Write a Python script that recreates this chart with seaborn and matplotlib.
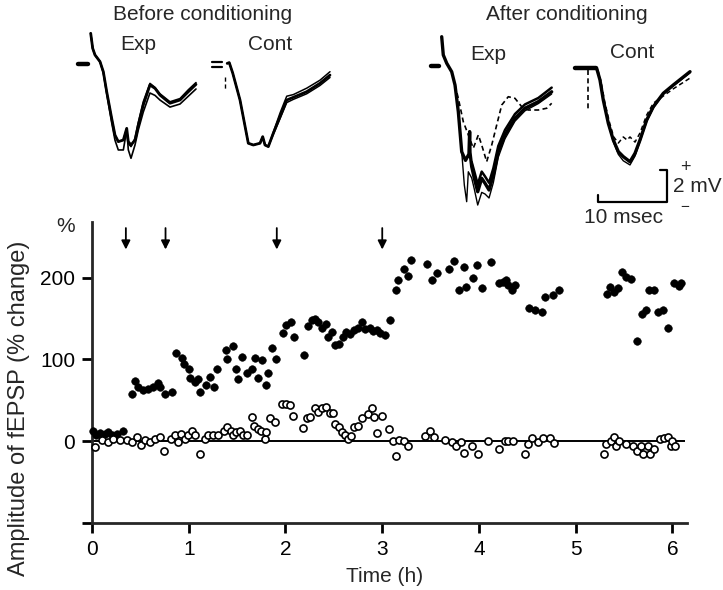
import matplotlib.pyplot as plt
import seaborn as sns

sns.set_theme(style="ticks")
plt.rcParams['font.family'] = ['Liberation Sans', 'DejaVu Sans']

# fEPSP amplitude (% change) vs time (h), experimental pathway (filled)
exp_time = [0.01, 0.04, 0.08, 0.13, 0.17, 0.21, 0.26, 0.32,
            0.41, 0.44, 0.48, 0.53, 0.58, 0.63, 0.68, 0.70, 0.75, 0.83,
            0.87, 0.93, 0.95, 1.00, 1.01, 1.06, 1.10, 1.12, 1.18, 1.22, 1.26, 1.29, 1.38, 1.40,
            1.46, 1.49, 1.51, 1.55, 1.60, 1.65, 1.68, 1.72, 1.76, 1.80, 1.82, 1.86, 1.90,
            1.97, 2.01, 2.06, 2.09, 2.19, 2.23, 2.27, 2.30, 2.34, 2.38, 2.42, 2.44, 2.48, 2.51,
            2.55, 2.59, 2.63, 2.67, 2.71, 2.75, 2.79, 2.82, 2.87, 2.90, 2.95, 2.98, 3.03, 3.08,
            3.14, 3.16, 3.22, 3.27, 3.30, 3.46, 3.51, 3.57, 3.69, 3.74, 3.79, 3.84, 3.87, 3.94,
            3.98, 4.03, 4.12, 4.21, 4.25, 4.28, 4.30, 4.34, 4.37, 4.52, 4.58, 4.65, 4.68, 4.77, 4.83,
            5.32, 5.35, 5.40, 5.44, 5.48, 5.52, 5.57, 5.63, 5.69, 5.73, 5.76, 5.81, 5.85, 5.90,
            5.95, 6.02, 6.07, 6.09]
exp_amp = [12, 8, 10, 9, 11, 7, 9, 12,
           58, 74, 66, 62, 64, 66, 71, 66, 58, 60,
           108, 102, 95, 88, 77, 72, 76, 60, 69, 78, 66, 88, 112, 101,
           117, 88, 76, 103, 83, 88, 102, 77, 99, 69, 84, 114, 100,
           132, 142, 146, 127, 105, 141, 148, 149, 146, 139, 143, 128, 134, 118,
           119, 127, 134, 131, 136, 139, 146, 137, 138, 135, 136, 132, 130, 148,
           185, 197, 210, 202, 221, 217, 197, 206, 211, 220, 185, 213, 189, 200,
           216, 187, 219, 193, 195, 197, 191, 185, 191, 163, 161, 158, 176, 179, 185,
           180, 189, 183, 187, 207, 201, 198, 123, 156, 160, 185, 185, 158, 161,
           139, 194, 190, 193]

# control pathway (open)
cont_time = [0.03, 0.10, 0.17, 0.22, 0.29, 0.36, 0.41, 0.46, 0.51, 0.55, 0.60, 0.65, 0.70, 0.74,
             0.82, 0.86, 0.89, 0.92, 0.96, 0.99,
             1.03, 1.06, 1.12, 1.17, 1.20, 1.25, 1.30, 1.36, 1.40, 1.44, 1.46, 1.49, 1.53, 1.56,
             1.60, 1.65, 1.67, 1.72, 1.75, 1.79, 1.80, 1.84, 1.89, 1.96,
             2.01, 2.05, 2.08, 2.18, 2.22, 2.25, 2.30, 2.34, 2.38, 2.42, 2.46, 2.49, 2.51, 2.55,
             2.58, 2.61, 2.65, 2.68, 2.71, 2.75, 2.79, 2.85, 2.89, 2.91, 2.95,
             3.00, 3.07, 3.11, 3.14, 3.17, 3.23, 3.27, 3.44, 3.49, 3.54, 3.65, 3.72, 3.76, 3.81,
             3.84, 3.93, 3.99,
             4.09, 4.21, 4.27, 4.30, 4.35, 4.48, 4.51, 4.55, 4.61, 4.66, 4.73, 4.78,
             5.29, 5.31, 5.36, 5.40, 5.42, 5.45, 5.52, 5.59, 5.63, 5.67, 5.70, 5.75, 5.77, 5.81,
             5.87, 5.91, 5.95, 5.98, 5.99, 6.03]
cont_amp = [-7, 1, -1, 3, 1, 1, -1, 5, -5, 1, -1, 3, 5, -12,
            3, 7, -1, 9, 3, 7,
            12, 7, -16, 3, 7, 7, 8, 13, 17, 13, 7, 11, 13, 7,
            7, 29, 19, 15, 13, 3, 11, 28, 24, 46,
            45, 44, 31, 16, 28, 29, 40, 36, 41, 42, 35, 34, 21, 17,
            11, 7, 3, 6, 17, 19, 28, 33, 40, 30, 10,
            31, 15, 0, -18, 2, 0, -6, 6, 13, 5, 2, -1, -6, -1,
            -14, -6, -16,
            0, -9, 0, 0, 0, -16, -3, 4, -1, 4, 4, -2,
            -16, -3, 0, 5, -6, 0, -3, -6, -12, -6, -16, -6, -16, -9,
            3, 4, 5, -6, 0, -6]

arrow_times = [0.35, 0.76, 1.91, 3.0]
x_ticks = [0, 1, 2, 3, 4, 5, 6]
y_ticks = [-100, 0, 100, 200]
y_ticklabels = ['', '0', '100', '200']

# field potential traces (ms, mV)
be_t = [1.84, 2.13, 2.46, 3.19, 3.67, 4.16, 4.88, 5.36, 5.84, 6.57, 7.06, 7.29, 7.68, 8.26,
        8.74, 9.46, 10.43, 11.16, 11.88, 13.33, 14.78, 15.99, 17.10]
be_a = [1.98, 1.04, 0.63, 0.21, -0.42, -1.67, -3.33, -4.38, -4.79, -4.69, -3.96, -4.79, -5.0, -4.69,
        -3.75, -2.5, -1.25, -1.46, -1.88, -2.39, -2.19, -1.67, -1.21]
be_b = [1.98, 1.04, 0.63, 0.21, -0.42, -1.67, -3.33, -4.38, -4.79, -4.69, -3.96, -5.3, -5.83, -5.0,
        -4.06, -2.94, -1.75, -1.9, -2.19, -2.63, -2.44, -1.95, -1.5]
be_c = [1.98, 1.04, 0.63, 0.21, -0.5, -1.8, -3.6, -4.7, -5.31, -5.31, -4.06, -4.9, -5.1, -4.6,
        -3.6, -2.3, -1.15, -1.4, -1.8, -2.3, -2.1, -1.55, -1.1]

bc_t = [2.2, 2.5, 3.0, 4.06, 5.26, 5.99, 6.96, 7.35, 7.68, 8.16, 8.88, 9.86, 10.83, 11.78,
        13.72, 15.65, 17.1]
bc_a = [0.1, 0.15, -0.5, -2.19, -4.89, -5.0, -4.89, -4.48, -5.0, -5.1, -4.27, -3.23, -2.19, -2.02,
        -1.67, -1.14, -0.63]
bc_b = [0.1, 0.15, -0.5, -2.19, -4.89, -5.0, -4.89, -4.48, -5.0, -5.1, -4.2, -3.0, -1.95, -1.85,
        -1.45, -0.95, -0.42]
bc_c = [0.1, 0.15, -0.5, -2.19, -4.89, -5.0, -4.89, -4.48, -5.0, -5.1, -4.35, -3.35, -2.35, -2.15,
        -1.8, -1.28, -0.78]

ae_t = [1.55, 1.78, 2.28, 3.0, 3.48, 3.96, 4.45, 5.0, 5.5, 5.6, 5.65, 5.9, 6.28, 6.77, 7.35,
        7.83, 8.41, 9.03, 9.75, 10.72, 12.17, 13.62, 15.55, 17.49]
ae_a = [1.83, 0.69, 0.17, -0.36, -1.19, -2.86, -5.36, -5.9, -5.5, -4.1, -5.4, -6.3, -7.02, -7.86,
        -7.02, -7.33, -7.75, -6.81, -5.36, -4.31, -3.27, -2.64, -2.23, -1.61]
ae_thin_t = [3.96, 4.45, 4.83, 5.17, 5.41, 5.9, 6.28, 6.77, 7.35, 7.83, 8.41, 9.03, 9.75, 10.72,
             12.17, 13.62, 15.55, 17.49]
ae_thin = [-2.86, -5.36, -7.44, -8.48, -6.61, -7.0, -7.7, -8.69, -7.9, -8.0, -8.25, -7.3, -5.7,
           -4.55, -3.45, -2.8, -2.35, -1.75]
ae_up_t = [5.9, 6.28, 6.77, 7.35, 7.83, 8.41, 9.03, 9.75, 10.72, 12.17, 13.62, 15.55, 17.49]
ae_up = [-6.0, -6.6, -7.4, -6.6, -6.9, -7.3, -6.4, -5.0, -4.0, -3.0, -2.4, -2.0, -1.35]
ae_dash_t = [3.48, 3.96, 4.68, 5.41, 6.13, 6.86, 7.35, 8.07, 8.80, 9.52, 10.25, 11.20, 12.17,
             13.14, 14.10, 15.55, 16.77, 17.49]
ae_dash = [-1.19, -2.02, -3.48, -4.31, -5.14, -4.31, -4.94, -5.98, -4.94, -3.69, -2.44, -1.92,
           -2.02, -2.54, -2.75, -2.75, -2.64, -2.33]

ac_t = [3.14, 3.62, 4.10, 4.83, 5.55, 6.28, 7.0, 7.97, 8.70, 9.42, 10.39, 11.35, 12.80, 14.25, 16.67]
ac_a = [-0.02, -0.75, -2.0, -3.46, -4.5, -5.23, -5.54, -5.86, -5.33, -4.5, -3.25, -2.42, -1.58,
        -1.06, -0.23]
ac_low = [-0.02, -0.75, -2.0, -3.5, -4.6, -5.4, -5.8, -6.06, -5.5, -4.6, -3.35, -2.5, -1.65,
          -1.12, -0.3]
ac_dash_t = [3.3, 3.8, 4.3, 5.0, 5.6, 6.28, 7.0, 7.54, 7.97, 8.7, 9.42, 10.39, 11.35, 12.8, 14.25, 16.67]
ac_dash = [-0.1, -0.9, -2.1, -3.4, -4.3, -4.69, -4.31, -4.5, -4.31, -4.63, -4.06, -2.94, -2.2,
           -1.75, -1.3, -0.63]

scale_ms = 10
scale_mv = 2

W, H = 723, 590
PX_MS, PX_MV = 6.9, 16.0


def fx(px):
    return px / W


def fy(py):
    return 1 - py / H


fig = plt.figure(figsize=(W / 100, H / 100), dpi=100)

# main time course
ax = fig.add_axes([fx(92), fy(523), (687 - 92) / W, (523 - 222) / H])
ax.hlines(0, 0, 6.13, color='black', lw=1.4, zorder=2)
sns.scatterplot(x=exp_time, y=exp_amp, ax=ax, color='black', s=30, edgecolor='black',
                linewidth=0.4, clip_on=False, zorder=3)
sns.scatterplot(x=cont_time, y=cont_amp, ax=ax, color='white', s=26, edgecolor='black',
                linewidth=1.2, clip_on=False, zorder=4)
for t in arrow_times:
    ax.annotate('', xy=(t, 231), xytext=(t, 264),
                arrowprops=dict(arrowstyle='-|>', color='black', lw=1.3, mutation_scale=13))
ax.set_xlim(0, 6.15)
ax.set_ylim(-100, 268)
ax.set_xticks(x_ticks)
ax.set_yticks(y_ticks)
ax.set_yticklabels(y_ticklabels)
sns.despine(ax=ax)
for s in ['left', 'bottom']:
    ax.spines[s].set_linewidth(2)
ax.tick_params(direction='out', length=7, width=2, labelsize=15, pad=5, colors='black')
ax.set_xlabel('Time (h)', fontsize=15)
ax.xaxis.set_label_coords((385 - 92) / 595, (523 - 577) / 301)
ax.xaxis.label.set_va('center')
ax.set_ylabel('Amplitude of fEPSP (% change)', fontsize=17)
ax.yaxis.set_label_coords((19 - 92) / 595, (523 - 408) / 301)
ax.yaxis.label.set_va('center')
fig.text(fx(66), fy(227), '%', fontsize=15, ha='center', va='center')


def trace_axes(x0, y0, t_lo, t_hi, v_lo, v_hi):
    a = fig.add_axes([fx(x0 + t_lo * PX_MS), fy(y0 - v_lo * PX_MV),
                      (t_hi - t_lo) * PX_MS / W, (v_hi - v_lo) * PX_MV / H])
    a.set_xlim(t_lo, t_hi)
    a.set_ylim(v_lo, v_hi)
    a.axis('off')
    return a


def trace(a, t, v, lw, ls='-'):
    sns.lineplot(x=t, y=v, ax=a, color='black', lw=lw, linestyle=ls, sort=False,
                 estimator=None, clip_on=False)


dash = (0, (3, 2))

a1 = trace_axes(78, 65, -0.5, 18.5, -6.5, 2.5)
trace(a1, [0, 1.45], [0.05, 0.05], 3.2)
trace(a1, be_t, be_c, 1.2)
trace(a1, be_t, be_b, 1.2)
trace(a1, be_t, be_a, 2.0)

a2 = trace_axes(212, 65, -0.5, 18.5, -6.5, 1.5)
trace(a2, [0, 1.45], [0.2, 0.2], 1.6)
trace(a2, [0, 1.45], [-0.1, -0.1], 1.6)
trace(a2, [1.88, 1.88], [-0.75, -1.56], 1.0, dash)
trace(a2, bc_t, bc_b, 1.1)
trace(a2, bc_t, bc_c, 1.1)
trace(a2, bc_t, bc_a, 2.0)

a3 = trace_axes(431, 66, -0.5, 18.5, -9.5, 2.5)
trace(a3, [0, 1.16], [0.02, 0.02], 3.2)
trace(a3, ae_dash_t, ae_dash, 1.2, dash)
trace(a3, ae_thin_t, ae_thin, 1.0)
trace(a3, ae_up_t, ae_up, 1.8)
trace(a3, ae_t, ae_a, 2.4)

a4 = trace_axes(575, 68, -0.5, 19.0, -10.0, 1.0)
trace(a4, [0, 3.1], [0, 0], 3.2)
trace(a4, [1.88, 1.88], [-0.13, -2.63], 1.2, dash)
trace(a4, ac_dash_t, ac_dash, 1.1, dash)
trace(a4, ac_t, ac_low, 1.0)
trace(a4, ac_t, ac_a, 2.4)

# scale bar
sb_x0, sb_y0 = 3.33, -8.375
trace(a4, [sb_x0, sb_x0, sb_x0 + scale_ms, sb_x0 + scale_ms, sb_x0 + scale_ms - 0.95],
      [sb_y0 + 0.45, sb_y0, sb_y0, sb_y0 + scale_mv, sb_y0 + scale_mv], 1.6)
fig.text(fx(685), fy(167), '+', fontsize=13, ha='center', va='center')
fig.text(fx(673), fy(187), '2 mV', fontsize=15, ha='left', va='center')
fig.text(fx(685), fy(207), '\u2212', fontsize=11, ha='center', va='center')
fig.text(fx(624), fy(218), '10 msec', fontsize=15, ha='center', va='center')

fig.text(fx(203), fy(15), 'Before conditioning', fontsize=15, ha='center', va='center')
fig.text(fx(138), fy(45), 'Exp', fontsize=15, ha='center', va='center')
fig.text(fx(270), fy(44), 'Cont', fontsize=15, ha='center', va='center')
fig.text(fx(567), fy(15), 'After conditioning', fontsize=15, ha='center', va='center')
fig.text(fx(488), fy(55), 'Exp', fontsize=15, ha='center', va='center')
fig.text(fx(632), fy(53), 'Cont', fontsize=15, ha='center', va='center')

fig.savefig('out.png', dpi=100)
